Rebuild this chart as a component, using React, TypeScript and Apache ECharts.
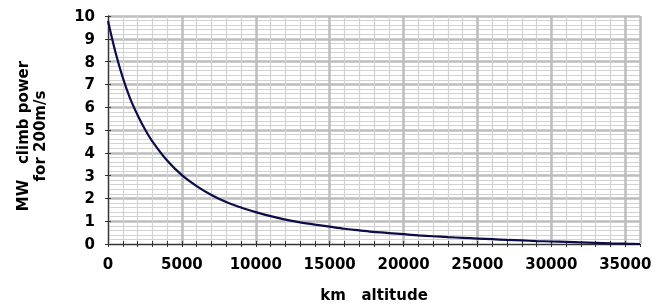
import React, { useEffect, useRef } from "react";
import * as echarts from "echarts";

const altitudeKm = [0, 500, 1000, 1500, 2000, 2500, 3000, 4000, 5000, 6000, 7000, 8000, 9000, 10000, 11000, 12000, 13000, 14000, 15000, 16000, 17000, 18000, 19000, 20000, 21000, 22000, 23000, 24000, 25000, 26000, 27000, 28000, 29000, 30000, 31000, 32000, 33000, 34000, 35000, 36000];
const powerMW = [9.78, 8.42, 7.3, 6.38, 5.66, 5.03, 4.5, 3.66, 3.02, 2.54, 2.15, 1.84, 1.6, 1.4, 1.22, 1.07, 0.95, 0.85, 0.76, 0.67, 0.6, 0.53, 0.48, 0.43, 0.38, 0.34, 0.3, 0.27, 0.24, 0.21, 0.18, 0.155, 0.13, 0.11, 0.09, 0.07, 0.05, 0.03, 0.013, 0.0];
const xMajorStep = 5000;
const xMinorStep = 1000;
const xMax = 36000;
const yMax = 10;

const FONT = "DejaVu Sans";

export default function App() {
  const ref = useRef<HTMLDivElement>(null);
  useEffect(() => {
    if (!ref.current) return;
    const chart = echarts.init(ref.current, null, { renderer: "svg" });
    const minorColors = ["rgba(0,0,0,0)", "#d2d2d2", "#d2d2d2", "#d2d2d2", "#d2d2d2"];
    chart.setOption({
      animation: false,
      grid: { left: 108, right: 28, top: 16, bottom: 58, containLabel: false },
      xAxis: [
        {
          type: "value",
          position: "bottom",
          min: 0,
          max: xMax,
          interval: xMinorStep,
          name: "km   altitude",
          nameLocation: "middle",
          nameGap: 43,
          nameTextStyle: { fontFamily: FONT, fontWeight: "bold", fontSize: 15, color: "#000" },
          axisLine: { show: true, lineStyle: { color: "#333", width: 1 } },
          axisTick: { show: true, inside: true, length: 3, lineStyle: { color: "#333" } },
          axisLabel: {
            margin: 12,
            fontFamily: FONT,
            fontWeight: "bold",
            fontSize: 15,
            color: "#000",
            showMaxLabel: false,
            formatter: (v: number) => (v % xMajorStep === 0 && v < xMax ? String(v) : ""),
          },
          splitLine: { show: true, lineStyle: { color: minorColors, width: 1.2 } },
        },
        {
          type: "value",
          position: "top",
          min: 0,
          max: xMax,
          interval: xMinorStep,
          axisLine: { show: true, lineStyle: { color: "#333", width: 1 } },
          axisTick: { show: true, inside: true, length: 3, lineStyle: { color: "#333" } },
          axisLabel: { show: false },
          splitLine: { show: false },
        },
        {
          type: "value",
          position: "bottom",
          min: 0,
          max: xMax,
          interval: xMajorStep,
          axisLine: { show: false },
          axisTick: { show: false },
          axisLabel: { show: false },
          splitLine: { show: true, lineStyle: { color: "#bdbdbd", width: 2.5 } },
        },
      ],
      yAxis: [
        {
          type: "value",
          position: "left",
          min: 0,
          max: yMax,
          interval: 1,
          name: "MW   climb power\nfor 200m/s",
          nameLocation: "middle",
          nameGap: 60,
          nameTextStyle: { fontFamily: FONT, fontWeight: "bold", fontSize: 15, color: "#000", lineHeight: 17, align: "center", padding: [0, 12, 0, 0] },
          axisLine: { show: true, lineStyle: { color: "#333", width: 1 } },
          axisTick: { show: true, inside: true, length: 3, lineStyle: { color: "#333" } },
          axisLabel: { margin: 13, fontFamily: FONT, fontWeight: "bold", fontSize: 15, color: "#000" },
          splitLine: { show: true, lineStyle: { color: "#bdbdbd", width: 2.5 } },
          minorTick: { show: false, splitNumber: 5 },
          minorSplitLine: { show: true, lineStyle: { color: "#d2d2d2", width: 1.2 } },
        },
        {
          type: "value",
          position: "right",
          min: 0,
          max: yMax,
          interval: 1,
          axisLine: { show: true, lineStyle: { color: "#333", width: 1 } },
          axisTick: { show: true, inside: true, length: 3, lineStyle: { color: "#333" } },
          axisLabel: { show: false },
          splitLine: { show: false },
        },
      ],
      series: [
        {
          type: "line",
          xAxisIndex: 0,
          yAxisIndex: 0,
          data: altitudeKm.map((x, i) => [x, powerMW[i]]),
          smooth: 0.3,
          showSymbol: false,
          lineStyle: { color: "#0c0c48", width: 2.2 },
          z: 5,
        },
      ],
    });
    return () => chart.dispose();
  }, []);
  return <div ref={ref} style={{ position: "fixed", left: 0, top: 0, width: 668, height: 307 }} />;
}
